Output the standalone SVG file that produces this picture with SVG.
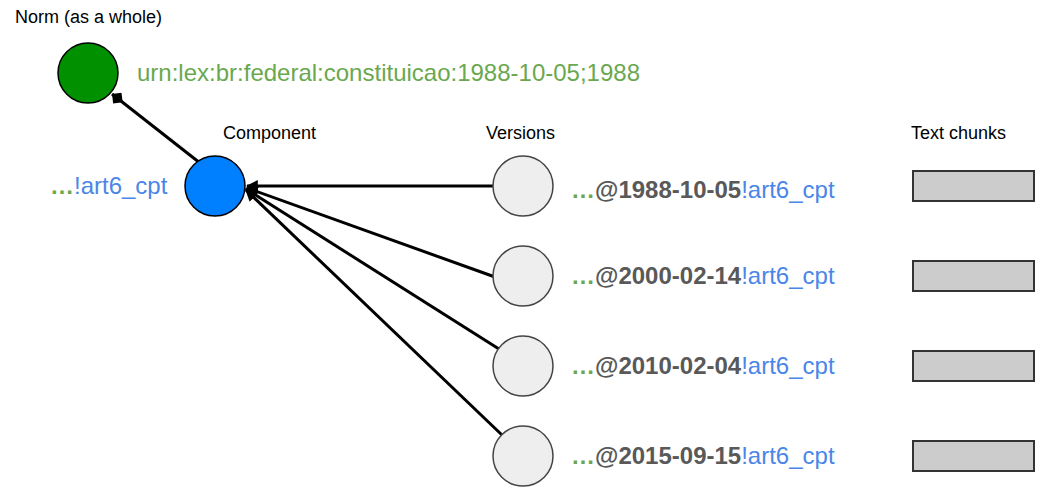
<svg xmlns="http://www.w3.org/2000/svg" width="1050" height="496" viewBox="0 0 1050 496">
<defs>
<style>
.lbl{font-family:"Liberation Sans",Arial,sans-serif;font-size:18px;fill:#000}
.id{font-family:"Liberation Sans",Arial,sans-serif;font-size:24px}
.g{fill:#6aa84f}
.gb{fill:#6aa84f;font-weight:bold}
.b{fill:#4a86e8}
.d{fill:#595959;font-weight:bold}
.ver{fill:#eeeeee;stroke:#444;stroke-width:1.5}
.chunk{fill:#cccccc;stroke:#333;stroke-width:2}
.conn{stroke:#000;stroke-width:3;fill:none}
</style>
<marker id="arr" viewBox="0 0 10 10" refX="9" refY="5" markerWidth="4" markerHeight="4" orient="auto" markerUnits="strokeWidth">
<path d="M0,0 L10,5 L0,10 z" fill="#000"/>
</marker>
<marker id="dia" viewBox="0 0 10 10" refX="10" refY="5" markerWidth="4.5" markerHeight="4.5" orient="auto" markerUnits="strokeWidth">
<path d="M0,5 L5,0 L10,5 L5,10 z" fill="#000"/>
</marker>
</defs>
<rect width="1050" height="496" fill="#fff"/>
<g id="connectors">
<line class="conn" x1="200" y1="163" x2="112" y2="94" marker-end="url(#dia)"/>
<line class="conn" x1="493" y1="186" x2="247" y2="186" marker-end="url(#arr)"/>
<line class="conn" x1="495" y1="277" x2="247" y2="188" marker-end="url(#arr)"/>
<line class="conn" x1="499" y1="349" x2="246" y2="189" marker-end="url(#arr)"/>
<line class="conn" x1="502" y1="435" x2="246" y2="190" marker-end="url(#arr)"/>
</g>
<g id="norm">
<text class="lbl" x="15" y="23">Norm (as a whole)</text>
<circle cx="88" cy="73" r="30" fill="#009000" stroke="#000" stroke-width="1.5"/>
<text class="id g" x="137" y="81">urn:lex:br:federal:constituicao:1988-10-05;1988</text>
</g>
<g id="component">
<text class="lbl" x="223" y="139">Component</text>
<circle cx="215" cy="186" r="30" fill="#007fff" stroke="#000" stroke-width="1.5"/>
<text class="id" x="50" y="194"><tspan class="gb">…</tspan><tspan class="b">!art6_cpt</tspan></text>
</g>
<g id="versions-header"><text class="lbl" x="486" y="139">Versions</text></g>
<g id="chunks-header"><text class="lbl" x="911" y="139">Text chunks</text></g>
<g id="v1">
<circle class="ver" cx="523" cy="186" r="30"/>
<text class="id" x="571" y="198"><tspan class="gb">…</tspan><tspan class="d">@1988-10-05</tspan><tspan class="b">!art6_cpt</tspan></text>
</g>
<g id="v2">
<circle class="ver" cx="523" cy="276" r="30"/>
<text class="id" x="571" y="284"><tspan class="gb">…</tspan><tspan class="d">@2000-02-14</tspan><tspan class="b">!art6_cpt</tspan></text>
</g>
<g id="v3">
<circle class="ver" cx="523" cy="366" r="30"/>
<text class="id" x="571" y="374"><tspan class="gb">…</tspan><tspan class="d">@2010-02-04</tspan><tspan class="b">!art6_cpt</tspan></text>
</g>
<g id="v4">
<circle class="ver" cx="523" cy="456" r="30"/>
<text class="id" x="571" y="464"><tspan class="gb">…</tspan><tspan class="d">@2015-09-15</tspan><tspan class="b">!art6_cpt</tspan></text>
</g>
<g id="c1"><rect class="chunk" x="913" y="171" width="121" height="30"/></g>
<g id="c2"><rect class="chunk" x="913" y="261" width="121" height="30"/></g>
<g id="c3"><rect class="chunk" x="913" y="351" width="121" height="30"/></g>
<g id="c4"><rect class="chunk" x="913" y="441" width="121" height="30"/></g>
</svg>
